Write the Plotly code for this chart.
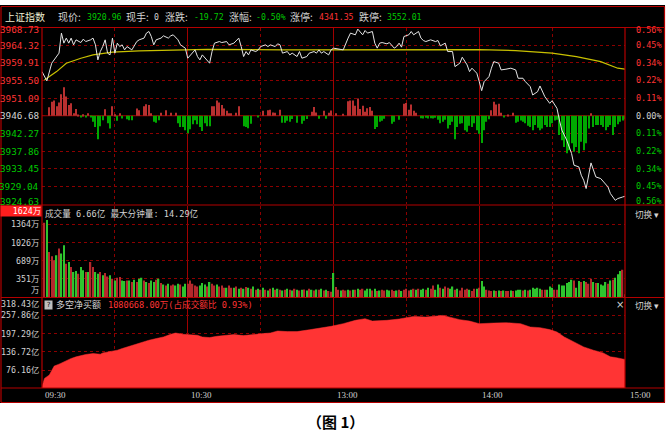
import plotly.graph_objects as go

W, H = 669, 444

# ---------------- data ----------------
prev_close = 3946.68
price_ticks = [3968.73, 3964.32, 3959.91, 3955.50, 3951.09, 3946.68,
               3942.27, 3937.86, 3933.45, 3929.04, 3924.63]
pct_ticks = ["0.56%", "0.45%", "0.34%", "0.22%", "0.11%", "0.00%",
             "0.11%", "0.22%", "0.34%", "0.45%", "0.56%"]
vol_ticks = [1364, 1026, 689, 351, 0]
vol_tick_text = ["1364万", "1026万", "689万", "351万", "万"]
vol_max = 1624
vol_max_text = "1624万"
net_ticks = [318.43, 257.86, 197.29, 136.72, 76.16]
net_tick_text = ["318.43亿", "257.86亿", "197.29亿", "136.72亿", "76.16亿"]
time_pos = [0, 60, 120, 180, 240]
time_labels = ["09:30", "10:30", "13:00", "14:00", "15:00"]

price_minute = [
    0, 2, 4, 5, 7, 8, 9, 10, 11, 12,
    13, 14, 16, 17, 18, 20, 21, 22, 23, 24,
    25, 26, 27, 28, 29, 30, 31, 32, 33, 34,
    35, 37, 39, 40, 42, 43, 44, 45, 46, 47,
    49, 50, 52, 53, 54, 56, 57, 58, 59, 60,
    62, 63, 64, 65, 66, 68, 69, 70, 71, 73,
    74, 76, 77, 79, 81, 82, 83, 84, 85, 86,
    88, 89, 90, 92, 93, 94, 96, 97, 98, 99,
    101, 102, 103, 105, 106, 107, 109, 110, 112, 113,
    114, 115, 116, 118, 119, 120, 122, 124, 126, 127,
    129, 130, 132, 133, 134, 136, 137, 138, 139, 140,
    142, 143, 145, 146, 147, 148, 149, 151, 152, 153,
    155, 156, 157, 158, 160, 162, 163, 164, 166, 167,
    169, 170, 172, 173, 175, 176, 177, 179, 180, 181,
    182, 184, 185, 186, 188, 189, 191, 193, 195, 196,
    198, 199, 201, 202, 204, 205, 207, 208, 209, 210,
    212, 213, 214, 216, 217, 218, 219, 221, 222, 223,
    224, 225, 226, 228, 230, 233, 234, 236, 237, 239,
    240]
price_value = [
    3957.71, 3955.38, 3959.81, 3960.64, 3962.32, 3967.33, 3964.82, 3966.08, 3964.82, 3966.08,
    3964.40, 3965.65, 3964.97, 3965.83, 3965.22, 3965.65, 3966.08, 3964.40, 3960.64, 3962.72,
    3963.97, 3965.65, 3962.32, 3961.89, 3966.08, 3962.32, 3964.82, 3963.97, 3964.40, 3963.14,
    3963.97, 3963.14, 3965.22, 3965.65, 3966.08, 3967.33, 3967.73, 3966.48, 3964.40, 3965.65,
    3966.08, 3966.65, 3966.08, 3966.65, 3966.90, 3965.65, 3964.40, 3963.97, 3963.57, 3961.06,
    3962.32, 3963.14, 3961.47, 3960.64, 3961.89, 3960.64, 3959.81, 3962.72, 3964.82, 3965.22,
    3964.97, 3965.22, 3964.40, 3964.82, 3966.08, 3963.97, 3961.47, 3962.72, 3961.89, 3963.14,
    3962.72, 3963.14, 3963.97, 3964.40, 3963.97, 3964.40, 3963.97, 3964.65, 3964.40, 3962.32,
    3962.72, 3961.89, 3962.32, 3961.47, 3962.72, 3961.06, 3961.47, 3962.32, 3962.72, 3962.32,
    3963.14, 3962.32, 3962.72, 3961.89, 3963.14, 3963.57, 3963.32, 3963.14, 3966.08, 3967.33,
    3966.90, 3968.33, 3966.90, 3967.98, 3967.33, 3967.73, 3964.82, 3963.57, 3964.82, 3964.97,
    3964.65, 3964.97, 3963.57, 3963.97, 3964.82, 3963.82, 3966.48, 3966.90, 3967.73, 3966.90,
    3967.73, 3966.08, 3965.48, 3965.22, 3965.65, 3965.22, 3965.48, 3964.15, 3964.82, 3962.72,
    3962.72, 3958.96, 3959.81, 3961.31, 3959.39, 3957.71, 3958.56, 3957.31, 3955.20, 3952.95,
    3955.20, 3956.45, 3958.56, 3960.21, 3959.81, 3958.13, 3958.31, 3958.56, 3958.13, 3956.05,
    3956.05, 3955.20, 3953.95, 3951.87, 3952.69, 3954.12, 3951.44, 3950.61, 3949.79, 3950.44,
    3948.53, 3945.60, 3943.10, 3940.59, 3938.91, 3937.26, 3934.33, 3933.90, 3931.82, 3930.57,
    3928.49, 3932.25, 3934.90, 3931.39, 3930.99, 3928.89, 3927.23, 3925.55, 3925.98, 3926.38,
    3926.56]

avg_minute = [1, 6, 10, 16, 21, 29, 40, 54, 68, 100, 130, 160, 180, 195, 210, 220, 230, 237, 240]
avg_value = [3955.60, 3957.71, 3959.81, 3961.06, 3961.89, 3962.57, 3962.89, 3963.14, 3963.25,
             3963.15, 3963.10, 3963.20, 3963.20, 3962.97, 3962.32, 3961.47, 3960.21, 3958.56, 3958.31]

flow_minute = [
    3, 4, 5, 6, 7, 8, 9, 10, 11, 12,
    13, 14, 15, 16, 17, 18, 19, 20, 21, 22,
    23, 24, 25, 26, 27, 28, 29, 30, 31, 32,
    33, 35, 36, 37, 39, 40, 42, 43, 44, 45,
    46, 47, 48, 49, 51, 53, 55, 56, 57, 58,
    59, 60, 61, 62, 63, 64, 65, 66, 67, 68,
    69, 70, 71, 72, 73, 74, 75, 76, 77, 78,
    80, 81, 83, 84, 85, 86, 89, 91, 93, 94,
    95, 96, 98, 99, 100, 101, 102, 103, 105, 107,
    108, 109, 111, 112, 113, 114, 116, 117, 118, 119,
    121, 124, 126, 127, 128, 129, 130, 131, 132, 133,
    134, 135, 136, 137, 138, 139, 140, 141, 144, 145,
    147, 149, 150, 151, 152, 153, 154, 156, 157, 158,
    159, 160, 161, 162, 163, 164, 165, 166, 167, 168,
    169, 170, 171, 172, 173, 174, 175, 176, 177, 178,
    179, 180, 181, 182, 183, 184, 185, 186, 187, 188,
    189, 190, 192, 194, 195, 196, 197, 198, 199, 200,
    201, 202, 203, 204, 205, 206, 207, 208, 209, 210,
    211, 212, 213, 214, 215, 216, 217, 218, 219, 220,
    221, 222, 223, 224, 225, 226, 227, 228, 229, 230,
    231, 232, 233, 234, 235, 236, 237, 238, 239, 240]
flow_value = [
    2.1, 3.5, 3.8, 2.4, 3.3, 5.4, 7.1, 4.8, 2.7, 3.1,
    0.6, 1.7, 0.3, -0.4, 0.4, -0.3, 0.6, -0.4, -1.5, -2.8,
    -5.9, -2.6, -1.1, 1.6, -1.9, -3.2, 2.4, 0.4, -1.25, 0.6,
    -0.7, -0.9, -1.1, -1.1, 1.8, 1.4, 2.4, 2.9, 2.7, 0.6,
    -1.5, -1.75, -1.1, 0.75, 1.4, 0.75, 0.75, -1.9, -2.8, -2.8,
    -3.6, -4.4, -3.4, -2.1, -1.1, -2.1, -2.8, -3.8, -1.9, -2.6,
    -2.6, 2.4, 2.4, 3.8, 3.3, 2.7, 1.8, 1.25, 0.6, 0.6,
    0.75, 2.4, -2.6, -2.8, -3.1, -2.0, -0.25, 1.25, 1.4, 1.5,
    0.8, 0.75, 1.5, -1.75, -1.75, -1.25, -1.5, -0.8, -1.75, -2.0,
    -1.25, -0.8, 1.0, 2.2, 0.8, -0.75, 1.25, -0.75, 0.75, 1.3,
    0.6, 0.5, 3.6, 3.8, 3.8, 2.5, 4.3, 1.7, 2.5, 1.0,
    1.9, 2.2, 1.25, -3.3, -2.8, -1.5, -1.25, -0.75, -2.0, -1.5,
    -1.0, 3.0, 3.2, 1.5, 2.8, 1.25, 0.75, -0.6, -0.7, -0.5,
    -0.7, -0.6, -0.7, -0.5, -1.0, -1.9, -1.5, -1.0, -3.2, -2.3,
    -1.5, -5.9, -2.8, -2.0, -1.9, -3.6, -4.0, -2.5, -2.8, -1.9,
    -3.6, -4.5, -6.8, -3.6, -1.5, -0.9, 1.4, 3.5, 2.8, 3.0,
    0.75, -0.4, 0.3, 0.75, -1.75, -1.5, -1.2, -1.5, -1.9, -2.5,
    -2.8, -3.6, -2.3, -3.0, -3.6, -3.2, -2.3, -2.8, -2.8, -1.9,
    -1.2, -1.0, -4.8, -6.1, -7.8, -9.4, -8.6, -6.9, -9.0, -7.8,
    -9.4, -6.5, -8.6, -6.9, -3.2, 0.6, -2.8, -2.3, -2.3, -2.3,
    -2.8, -3.6, -2.8, -2.3, -4.8, -2.8, -2.1, -1.5, -1.2, -0.9]

vol_value = [
    1396, 1446, 851, 770, 695, 789, 914, 820, 977, 632,
    664, 570, 476, 495, 444, 570, 507, 476, 476, 664,
    570, 476, 444, 476, 413, 457, 394, 413, 351, 319,
    369, 382, 319, 307, 319, 319, 288, 332, 288, 351,
    369, 319, 288, 269, 319, 288, 332, 351, 269, 244,
    225, 257, 225, 244, 225, 257, 244, 207, 257, 257,
    319, 257, 225, 207, 225, 269, 244, 207, 288, 257,
    225, 244, 207, 225, 182, 182, 225, 182, 182, 207,
    163, 182, 163, 194, 182, 163, 207, 144, 163, 144,
    182, 144, 131, 163, 182, 144, 163, 144, 131, 144,
    163, 144, 131, 163, 144, 131, 144, 150, 131, 163,
    144, 131, 150, 144, 163, 131, 144, 119, 106, 457,
    194, 144, 131, 144, 131, 144, 131, 144, 144, 163,
    144, 163, 131, 163, 163, 131, 163, 119, 131, 144,
    131, 144, 131, 144, 119, 131, 144, 119, 144, 163,
    131, 144, 163, 144, 163, 144, 163, 144, 182, 163,
    225, 144, 244, 182, 163, 207, 182, 163, 207, 144,
    163, 131, 182, 144, 163, 144, 119, 163, 163, 182,
    307, 207, 144, 131, 119, 131, 119, 131, 119, 131,
    119, 119, 131, 119, 131, 144, 144, 131, 144, 131,
    144, 182, 163, 182, 163, 144, 144, 144, 207, 182,
    144, 144, 244, 225, 225, 269, 288, 332, 319, 182,
    307, 288, 307, 288, 257, 351, 288, 269, 269, 244,
    225, 288, 257, 319, 332, 369, 432, 495, 520, 60]
vol_dir = (
    "RGRRRGRGGR" "GRGGRGGRGR" "RGGRGRRGRG" "RRGGRGRGRG"
    "GRGRGGRGRG" "RGRRGGRGGR" "RRRRGGGRGR" "RGRRRGRRGR"
    "GRGRGRGRGR" "GRGRGRGRGR" "GRGRGRGRGR" "GRGRGRGRRG"
    "RRGRRGRGRG" "RRGGGRGRGR" "RGGRRGRGRR" "RGRGRGGRGR"
    "RGGRGRRGGR" "GRRRRGRRGR" "GGRRRGRGRG" "RRGRGGGRGR"
    "GGGGGRRGGG" "RRGGGGGGRG" "GRGRRRGRGG" "GGRGRGGGRR")
vol_minute = list(range(1, 241))

net_minute = [0, 1, 3, 4, 5, 7, 8, 10, 12, 14,
              16, 18, 21, 24, 25, 28, 31, 33, 36, 39,
              42, 44, 47, 50, 53, 55, 58, 61, 64, 66,
              69, 72, 75, 79, 83, 87, 91, 94, 97, 101,
              105, 110, 115, 119, 124, 129, 133, 136, 142, 147,
              153, 158, 165, 168, 172, 176, 180, 186, 191, 197,
              201, 205, 209, 212, 215, 219, 223, 227, 231, 234,
              236, 240]
net_value = [20, 48.6, 59.6, 76.2, 89.4, 96, 100.3, 106.9, 114.8, 120.1,
             124.7, 128, 131.3, 129, 133.3, 136.6, 142.2, 147.8, 155.5, 162.1,
             169.7, 175.3, 180.9, 186.2, 195.1, 199.4, 195.1, 194.1, 191.8, 186.2,
             184.2, 188.5, 190.8, 194.1, 190.8, 195.1, 197.4, 199.4, 206, 204,
             204, 210, 216, 221.5, 230.4, 241.4, 247, 239, 241.4, 245.7,
             254.6, 252.3, 257.9, 252.3, 243.7, 239, 230.4, 232.4, 233.7, 230.4,
             219.2, 217.2, 210.6, 202.7, 186.2, 169.7, 153.1, 142.2, 133.3, 120.1,
             118.1, 111.5]

# ---------------- styles ----------------
BORDER = "#B40000"
GRID_SOLID = "#A00000"
GRID_DOT = "#8C0000"
TXT = "#D2D2D2"
RED_T = "#FF3434"
GRN_T = "#00C800"
BAR_R = "#B4282C"
BAR_G = "#2EC42E"
FLOW_R = "#B83030"
FLOW_G = "#00A800"
MONO = "DejaVu Sans Mono, Noto Sans CJK SC"
CJK = "Noto Sans CJK SC"

NET_LO, NET_HI = 16.7, 317.3


def px(x):
    return x / W


def py(y):
    return 1 - y / H


xdom = [px(42), px(625)]
dom_price = [py(204), py(27.5)]
dom_vol = [py(297.5), py(205.5)]
dom_net = [py(388), py(297.5)]

fig = go.Figure()

# price panel
fig.add_trace(go.Bar(
    x=flow_minute, y=flow_value, base=prev_close, width=0.45,
    marker=dict(color=[FLOW_R if v > 0 else FLOW_G for v in flow_value], line=dict(width=0)),
    xaxis="x", yaxis="y", hoverinfo="skip"))
fig.add_trace(go.Scatter(x=avg_minute, y=avg_value, mode="lines",
                         line=dict(color="#C8C000", width=1.2), xaxis="x", yaxis="y"))
fig.add_trace(go.Scatter(x=price_minute, y=price_value, mode="lines",
                         line=dict(color="#E4E4E4", width=1), xaxis="x", yaxis="y"))

# volume panel
fig.add_trace(go.Bar(
    x=vol_minute, y=vol_value, width=0.55,
    marker=dict(color=[BAR_R if d == "R" else BAR_G for d in vol_dir], line=dict(width=0)),
    xaxis="x2", yaxis="y2", hoverinfo="skip"))

# net buy panel
fig.add_trace(go.Scatter(x=net_minute, y=net_value, mode="lines", fill="tozeroy",
                         line=dict(color="#FF3434", width=0.5), fillcolor="#FF3434",
                         xaxis="x3", yaxis="y3"))

xcommon = dict(domain=xdom, range=[0, 240], showticklabels=False, ticks="",
               showline=False, zeroline=False, showgrid=True,
               tickmode="linear", tick0=0, dtick=60, gridcolor=GRID_SOLID, gridwidth=1,
               minor=dict(tickmode="linear", tick0=0, dtick=30, showgrid=True,
                          gridcolor=GRID_DOT, griddash="dot", gridwidth=1),
               fixedrange=True)
ycommon = dict(showticklabels=False, ticks="", showline=False, zeroline=False,
               showgrid=True, gridcolor=GRID_DOT, griddash="dot", gridwidth=1,
               fixedrange=True)

fig.update_layout(
    width=W, height=H, margin=dict(l=0, r=0, t=0, b=0),
    paper_bgcolor="white", plot_bgcolor="black", showlegend=False,
    xaxis=dict(anchor="y", **xcommon),
    xaxis2=dict(anchor="y2", matches="x", **xcommon),
    xaxis3=dict(anchor="y3", matches="x", **xcommon),
    yaxis=dict(domain=dom_price, range=[price_ticks[-1], price_ticks[0]], anchor="x",
               tickmode="array", tickvals=price_ticks, **ycommon),
    yaxis2=dict(domain=dom_vol, range=[0, 1717], anchor="x2",
                tickmode="array", tickvals=vol_ticks[:-1], **ycommon),
    yaxis3=dict(domain=dom_net, range=[NET_LO, NET_HI], anchor="x3",
                tickmode="array", tickvals=net_ticks[1:], **ycommon),
)

shapes = []
# black background
shapes.append(dict(type="rect", xref="paper", yref="paper", x0=px(0), x1=px(665),
                   y0=py(403), y1=py(5), fillcolor="black", line=dict(width=0), layer="below"))
# center line
shapes.append(dict(type="line", xref="x", yref="y", x0=0, x1=240, y0=prev_close, y1=prev_close,
                   line=dict(color=GRID_SOLID, width=1), layer="below"))


def hline(y, x0=1, x1=664.5, w=1.2):
    shapes.append(dict(type="line", xref="paper", yref="paper", x0=px(x0), x1=px(x1),
                       y0=py(y), y1=py(y), line=dict(color=BORDER, width=w), layer="above"))


def vline(x, y0, y1, w=1.2):
    shapes.append(dict(type="line", xref="paper", yref="paper", x0=px(x), x1=px(x),
                       y0=py(y0), y1=py(y1), line=dict(color=BORDER, width=w), layer="above"))


for yy in [6.5, 27.5, 205, 297.5, 388, 402.5]:
    hline(yy)
vline(1, 6.5, 402.5)
vline(664.5, 6.5, 402.5)
vline(42, 27.5, 388)
vline(625, 27.5, 388)
fig.update_layout(shapes=shapes)

ann = []


def label(x, y, text, color=TXT, size=9, family=MONO, xanchor="left", yref="paper",
          yshift=0, **kw):
    ann.append(dict(x=x, y=y, xref="paper", yref=yref, text=text, showarrow=False,
                    xanchor=xanchor, yanchor="middle", yshift=yshift,
                    font=dict(color=color, size=size, family=family), **kw))


# price axis labels (left and right)
n = len(price_ticks)
for i, (v, pt) in enumerate(zip(price_ticks, pct_ticks)):
    col = RED_T if v > prev_close else (GRN_T if v < prev_close else TXT)
    sh = -2.5 if i == 0 else (3 if i == n - 1 else 0)
    label(px(41), v, f"{v:.2f}", color=col, size=9.3, xanchor="right", yref="y", yshift=sh)
    label(px(664), v, pt, color=col, size=8.5, xanchor="right", yref="y", yshift=sh)

# volume axis labels
for v, t in zip(vol_ticks, vol_tick_text):
    label(px(41), v, t, color=TXT, size=8.3, xanchor="right", yref="y2",
          yshift=8 if v == 0 else 0)
label(px(42), vol_max, vol_max_text, color="white", size=8.3, xanchor="right", yref="y2",
      yshift=-1, bgcolor="#FF1E1E", width=40, height=10, align="right", borderpad=0)

# net buy labels (top one sits on the panel edge, so place it via the domain)
for v, t in zip(net_ticks, net_tick_text):
    if v > NET_HI:
        label(px(41), dom_net[1], t, color=TXT, size=8.3, xanchor="right", yshift=-6)
    else:
        label(px(41), v, t, color=TXT, size=8.3, xanchor="right", yref="y3")

# time labels
for pos, t in zip(time_pos, time_labels):
    ann.append(dict(x=pos, y=py(395), xref="x3", yref="paper", text=t, showarrow=False,
                    xanchor="left", yanchor="middle", xshift=1 if pos < 240 else 3,
                    font=dict(color=TXT, size=9, family="Liberation Serif")))

# header
hy = py(16.5)
header = [
    (3, "上证指数", "#EDEDD2", CJK, 10),
    (56, "现价:", TXT, CJK, 10),
    (85, "3920.96", GRN_T, MONO, 8.2),
    (124, "现手:", TXT, CJK, 10),
    (152, "0", TXT, MONO, 8.2),
    (163, "涨跌:", TXT, CJK, 10),
    (192, "-19.72", GRN_T, MONO, 8.2),
    (227, "涨幅:", TXT, CJK, 10),
    (254, "-0.50%", GRN_T, MONO, 8.2),
    (288, "涨停:", TXT, CJK, 10),
    (317, "4341.35", RED_T, MONO, 8.2),
    (357, "跌停:", TXT, CJK, 10),
    (385, "3552.01", GRN_T, MONO, 8.2),
]
for x, t, c, f, s in header:
    label(px(x), hy, t, color=c, size=s, family=f)

# volume header
label(px(43), py(213), "成交量 6.66亿 最大分钟量: 14.29亿", color=TXT, size=8.6, family=MONO)
label(px(633), py(214), "切换 ▾", color=TXT, size=8.6, family=CJK)

# net buy header
label(px(44), py(304.5), "?", color="black", size=7, family=MONO, bgcolor="#BEBEBE",
      width=7, height=8, borderpad=0)
label(px(54), py(304.5), "多空净买额", color=TXT, size=9, family=CJK)
label(px(106), py(304.5), "1080668.00万(占成交额比 0.93%)", color=RED_T, size=8.6, family=MONO)
label(px(614), py(304), "×", color=TXT, size=10, family="DejaVu Sans")
label(px(633), py(304.5), "切换 ▾", color=TXT, size=8.6, family=CJK)

# caption
ann.append(dict(x=px(335), y=py(421), xref="paper", yref="paper", text="<b>（图 1）</b>",
                showarrow=False, xanchor="center", yanchor="middle",
                font=dict(color="black", size=15, family=CJK)))

fig.update_layout(annotations=ann)
fig.write_html("out.html", config={"displayModeBar": False},
               post_script="document.body.style.margin='0';document.body.style.overflow='hidden';")
